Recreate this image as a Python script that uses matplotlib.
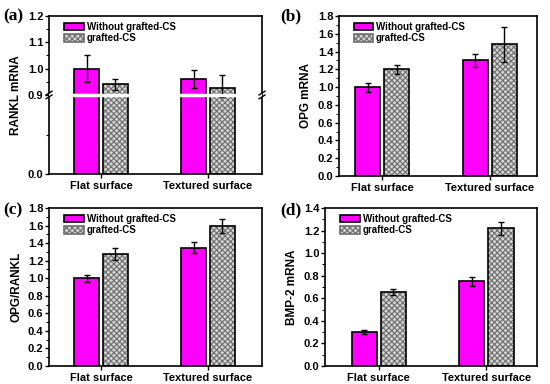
import numpy as np
import matplotlib
matplotlib.use("Agg")
import matplotlib.pyplot as plt
from matplotlib.patches import Patch

plt.rcParams['font.family'] = ['Liberation Sans', 'DejaVu Sans']
plt.rcParams['font.weight'] = 'bold'
plt.rcParams['hatch.linewidth'] = 0.8

groups = ["Flat surface", "Textured surface"]
series = ["Without grafted-CS", "grafted-CS"]

# (a) RANKL mRNA
rankl_wo = [1.00, 0.96]
rankl_wo_err = [0.05, 0.035]
rankl_g = [0.94, 0.925]
rankl_g_err = [0.02, 0.05]

# (b) OPG mRNA
opg_wo = [1.00, 1.30]
opg_wo_err = [0.05, 0.07]
opg_g = [1.20, 1.48]
opg_g_err = [0.05, 0.20]

# (c) OPG/RANKL
ratio_wo = [1.00, 1.35]
ratio_wo_err = [0.04, 0.06]
ratio_g = [1.28, 1.60]
ratio_g_err = [0.07, 0.08]

# (d) BMP-2 mRNA
bmp_wo = [0.30, 0.75]
bmp_wo_err = [0.015, 0.04]
bmp_g = [0.655, 1.22]
bmp_g_err = [0.03, 0.06]

W, H = 550, 384
fig = plt.figure(figsize=(W / 100, H / 100), dpi=100)


def rect(l, r, t, b):
    return [l / W, (H - b) / H, (r - l) / W, (b - t) / H]


def draw_panel(ax, wo, wo_err, g, g_err, xlim):
    x = np.arange(len(groups))
    bw = 0.234
    off = 0.135
    ax.bar(x - off, wo, bw, color="#ff00ff", edgecolor="black", linewidth=1.2, zorder=2)
    ax.bar(x + off, g, bw, color="#d4d4d4", edgecolor="#6e6e6e", hatch="xxxxxx",
           linewidth=0, zorder=2)
    ax.bar(x + off, g, bw, color="none", edgecolor="black", linewidth=1.2, zorder=3)
    ax.errorbar(x - off, wo, yerr=wo_err, fmt="none", ecolor="black",
                elinewidth=1, capsize=2.5, capthick=1, zorder=4)
    ax.errorbar(x + off, g, yerr=g_err, fmt="none", ecolor="black",
                elinewidth=1, capsize=2.5, capthick=1, zorder=4)
    ax.set_xticks(x)
    ax.set_xticklabels(groups, fontsize=8, fontweight="bold")
    ax.set_xlim(*xlim)
    ax.tick_params(axis="y", which="major", direction="out", length=3, width=1,
                   labelsize=8, pad=1)
    ax.tick_params(axis="y", which="minor", direction="out", length=2, width=0.8)
    ax.tick_params(axis="x", direction="out", length=3, width=1, pad=2)
    for s in ax.spines.values():
        s.set_linewidth(1.2)
    leg = ax.legend(handles=[
        Patch(facecolor="#ff00ff", edgecolor="black", linewidth=1.2),
        Patch(facecolor="#d4d4d4", edgecolor="#6e6e6e", hatch="xxxxxx", linewidth=1.2),
    ], labels=series, loc="upper left", frameon=False, fontsize=7,
        handlelength=2.0, handleheight=0.85, handletextpad=0.3, labelspacing=0.15,
        borderaxespad=0.2, bbox_to_anchor=(0.045, 1.0))
    for t in leg.get_texts():
        t.set_fontweight("bold")


# piecewise scale for the broken axis in (a)
def fwd(y):
    y = np.asarray(y, dtype=float)
    return np.where(y <= 0.9, y / 0.9, 1 + (y - 0.9) / 0.3)


def inv(v):
    v = np.asarray(v, dtype=float)
    return np.where(v <= 1, v * 0.9, 0.9 + (v - 1) * 0.3)


ax_a = fig.add_axes(rect(49, 262, 16, 174))
ax_a.set_yscale("function", functions=(fwd, inv))
draw_panel(ax_a, rankl_wo, rankl_wo_err, rankl_g, rankl_g_err, (-0.486, 1.505))
ax_a.set_ylim(0, 1.2)
ax_a.set_yticks([0.0, 0.9, 1.0, 1.1, 1.2])
ax_a.set_yticklabels(["0.0", "0.9", "1.0", "1.1", "1.2"])
ax_a.set_yticks([0.45, 0.95, 1.05, 1.15], minor=True)
ax_a.set_ylabel("RANKL mRNA", fontsize=8.5, fontweight="bold", labelpad=4)
ax_a.axhline(0.9, color="white", linewidth=2.5, zorder=5)
for xs in (0.0, 1.0):
    for dy in (-0.012, 0.012):
        ax_a.plot([xs - 0.014, xs + 0.014], [0.5 + dy - 0.012, 0.5 + dy + 0.012],
                  transform=ax_a.transAxes, color="black", linewidth=1,
                  clip_on=False, zorder=6)

ax_b = fig.add_axes(rect(339, 537, 16, 176))
draw_panel(ax_b, opg_wo, opg_wo_err, opg_g, opg_g_err, (-0.40, 1.44))
ax_b.set_ylim(0, 1.8)
ax_b.set_yticks(np.arange(0, 1.81, 0.2))
ax_b.set_yticks(np.arange(0.1, 1.8, 0.2), minor=True)
ax_b.yaxis.set_major_formatter(matplotlib.ticker.FormatStrFormatter("%.1f"))
ax_b.set_ylabel("OPG mRNA", fontsize=8.5, fontweight="bold", labelpad=4)

ax_c = fig.add_axes(rect(49, 262, 208, 366))
draw_panel(ax_c, ratio_wo, ratio_wo_err, ratio_g, ratio_g_err, (-0.486, 1.505))
ax_c.set_ylim(0, 1.8)
ax_c.set_yticks(np.arange(0, 1.81, 0.2))
ax_c.set_yticks(np.arange(0.1, 1.8, 0.2), minor=True)
ax_c.yaxis.set_major_formatter(matplotlib.ticker.FormatStrFormatter("%.1f"))
ax_c.set_ylabel("OPG/RANKL", fontsize=8.5, fontweight="bold", labelpad=4)

ax_d = fig.add_axes(rect(325, 537, 208, 366))
draw_panel(ax_d, bmp_wo, bmp_wo_err, bmp_g, bmp_g_err, (-0.50, 1.47))
ax_d.set_ylim(0, 1.4)
ax_d.set_yticks(np.arange(0, 1.41, 0.2))
ax_d.set_yticks(np.arange(0.1, 1.4, 0.2), minor=True)
ax_d.yaxis.set_major_formatter(matplotlib.ticker.FormatStrFormatter("%.1f"))
ax_d.set_ylabel("BMP-2 mRNA", fontsize=8.5, fontweight="bold", labelpad=4)

for lbl, px, py in [("(a)", 3, 16), ("(b)", 280, 16), ("(c)", 3, 210), ("(d)", 280, 210)]:
    fig.text(px / W, 1 - py / H, lbl, fontsize=12.5, fontweight="bold",
             family=["Liberation Serif", "DejaVu Serif"], va="center", ha="left")

fig.savefig("out.png", dpi=100)
